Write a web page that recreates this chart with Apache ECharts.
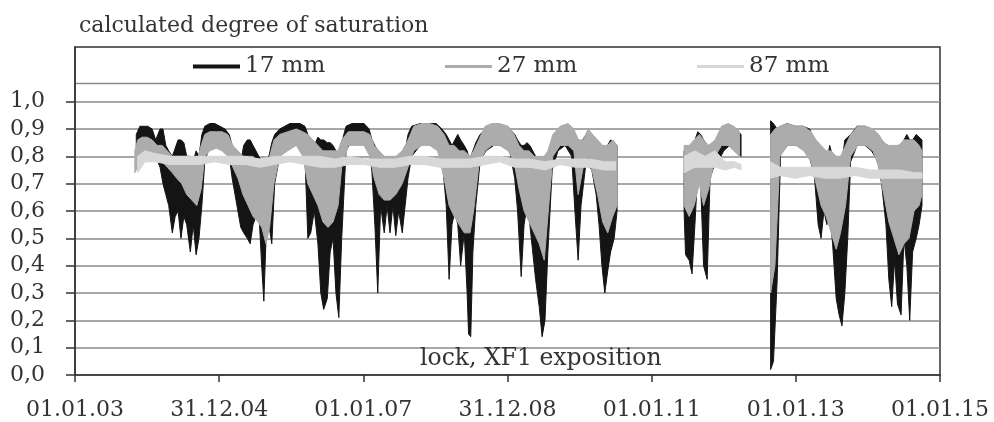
<!DOCTYPE html>
<html>
<head>
<meta charset="utf-8">
<script src="https://cdn.jsdelivr.net/npm/echarts@6/dist/echarts.min.js"></script>
<style>
  html, body { margin: 0; padding: 0; background: #fff; }
  #chart { width: 994px; height: 422px; }
</style>
</head>
<body>
<div id="chart"></div>
<script>
  // x in decimal years, each row: [time, high, low] of the daily swing; null = no data
  const xTickLabels = ['01.01.03', '31.12.04', '01.01.07', '31.12.08', '01.01.11', '01.01.13', '01.01.15']
  const yTicks = [0, 0.1, 0.2, 0.3, 0.4, 0.5, 0.6, 0.7, 0.8, 0.9, 1.0]
  const seriesNames = ['17 mm', '27 mm', '87 mm']
  const seriesColors = ['#141414', '#acacac', '#d8d8d8']

  const s17 = [
    [2003.85,.88,.80],[2003.90,.91,.82],[2003.96,.91,.84],[2004.01,.91,.86],[2004.07,.90,.84],[2004.12,.86,.80],
    [2004.18,.90,.76],[2004.22,.90,.70],[2004.26,.84,.66],[2004.30,.82,.62],[2004.35,.80,.52],[2004.39,.83,.58],
    [2004.43,.86,.60],[2004.47,.86,.50],[2004.51,.85,.58],[2004.55,.80,.55],[2004.60,.80,.45],[2004.64,.78,.55],
    [2004.68,.82,.44],[2004.72,.80,.50],[2004.76,.88,.62],[2004.80,.91,.78],[2004.87,.92,.84],[2004.94,.92,.86],
    [2005.01,.91,.86],[2005.08,.90,.84],[2005.14,.88,.80],[2005.18,.84,.72],[2005.22,.82,.66],[2005.26,.80,.60],
    [2005.30,.78,.54],[2005.34,.84,.52],[2005.39,.86,.50],[2005.43,.86,.48],[2005.47,.84,.55],[2005.51,.82,.58],
    [2005.55,.80,.60],[2005.59,.78,.40],[2005.62,.76,.27],[2005.65,.78,.50],[2005.69,.80,.55],[2005.73,.85,.48],
    [2005.77,.88,.70],[2005.84,.90,.80],[2005.91,.91,.82],[2005.98,.92,.84],[2006.05,.92,.86],[2006.12,.92,.85],
    [2006.19,.91,.80],[2006.23,.88,.50],[2006.27,.86,.52],[2006.32,.84,.60],[2006.37,.87,.48],[2006.41,.86,.30],
    [2006.45,.86,.24],[2006.50,.85,.28],[2006.54,.85,.45],[2006.58,.84,.50],[2006.62,.82,.30],[2006.66,.80,.21],
    [2006.70,.85,.50],[2006.76,.91,.82],[2006.84,.92,.86],[2006.93,.92,.86],[2007.01,.92,.86],[2007.08,.90,.84],
    [2007.12,.86,.74],[2007.16,.84,.55],[2007.20,.82,.30],[2007.24,.80,.62],[2007.29,.78,.52],[2007.33,.80,.62],
    [2007.37,.78,.52],[2007.41,.80,.62],[2007.45,.78,.51],[2007.49,.80,.60],[2007.54,.80,.52],[2007.58,.82,.62],
    [2007.62,.88,.72],[2007.67,.91,.80],[2007.79,.92,.84],[2007.90,.92,.85],[2008.01,.92,.84],[2008.09,.90,.80],
    [2008.15,.88,.62],[2008.19,.86,.35],[2008.23,.84,.55],[2008.27,.86,.60],[2008.31,.88,.55],[2008.35,.86,.40],
    [2008.40,.84,.52],[2008.44,.82,.30],[2008.46,.80,.15],[2008.49,.80,.14],[2008.52,.82,.45],[2008.56,.85,.62],
    [2008.62,.88,.78],[2008.70,.90,.82],[2008.81,.91,.84],[2008.92,.91,.84],[2009.03,.90,.82],[2009.10,.88,.72],
    [2009.14,.86,.60],[2009.19,.84,.36],[2009.23,.84,.55],[2009.27,.85,.62],[2009.31,.84,.55],[2009.35,.82,.45],
    [2009.39,.80,.35],[2009.44,.78,.25],[2009.48,.80,.14],[2009.52,.78,.20],[2009.56,.80,.45],[2009.62,.86,.75],
    [2009.70,.90,.82],[2009.80,.91,.84],[2009.89,.90,.80],[2009.94,.88,.58],[2009.98,.86,.42],[2010.02,.85,.62],
    [2010.09,.88,.78],[2010.17,.88,.75],[2010.23,.86,.66],[2010.27,.82,.55],[2010.31,.80,.40],[2010.35,.80,.30],
    [2010.39,.84,.38],[2010.43,.86,.45],[2010.48,.85,.50],[2010.52,.84,.60],
    null,
    [2011.45,.82,.60],[2011.47,.82,.44],[2011.52,.80,.42],[2011.56,.82,.37],[2011.60,.86,.55],[2011.64,.89,.75],
    [2011.68,.88,.70],[2011.72,.86,.40],[2011.77,.84,.35],[2011.81,.84,.72],[2011.86,.80,.76],[2011.92,.86,.78],
    [2012.00,.90,.82],[2012.08,.91,.84],[2012.17,.90,.82],[2012.24,.88,.80],
    null,
    [2012.65,.93,.02],[2012.69,.92,.05],[2012.74,.90,.34],[2012.79,.91,.82],[2012.88,.92,.84],[2012.99,.91,.84],
    [2013.10,.91,.84],[2013.19,.90,.80],[2013.26,.86,.72],[2013.31,.82,.55],[2013.35,.80,.50],[2013.39,.80,.60],
    [2013.43,.78,.55],[2013.47,.84,.60],[2013.51,.80,.48],[2013.56,.78,.28],[2013.60,.76,.22],[2013.64,.78,.18],
    [2013.68,.86,.30],[2013.72,.87,.50],[2013.76,.88,.78],[2013.85,.91,.84],[2013.96,.91,.84],[2014.05,.90,.82],
    [2014.14,.88,.78],[2014.19,.86,.70],[2014.25,.84,.55],[2014.29,.82,.35],[2014.33,.80,.25],[2014.37,.82,.42],
    [2014.41,.84,.26],[2014.46,.84,.22],[2014.50,.86,.50],[2014.54,.88,.40],[2014.58,.86,.20],[2014.62,.86,.45],
    [2014.67,.88,.50],[2014.71,.87,.55],[2014.75,.86,.62]
  ]

  const s27 = [
    [2003.83,.82,.74],[2003.87,.86,.76],[2003.93,.87,.78],[2004.00,.87,.80],[2004.07,.86,.78],[2004.14,.84,.80],
    [2004.21,.84,.78],[2004.28,.82,.76],[2004.35,.80,.74],[2004.41,.80,.72],[2004.48,.80,.70],[2004.55,.80,.66],
    [2004.62,.78,.64],[2004.69,.78,.62],[2004.75,.84,.68],[2004.80,.88,.80],[2004.87,.89,.82],[2004.96,.89,.83],
    [2005.04,.89,.82],[2005.12,.88,.80],[2005.19,.84,.76],[2005.26,.82,.72],[2005.33,.80,.66],[2005.40,.80,.62],
    [2005.47,.80,.58],[2005.54,.78,.56],[2005.59,.78,.54],[2005.65,.78,.48],[2005.70,.80,.54],[2005.76,.86,.70],
    [2005.84,.88,.80],[2005.95,.89,.82],[2006.07,.90,.84],[2006.16,.89,.80],[2006.23,.88,.70],[2006.30,.86,.66],
    [2006.37,.84,.62],[2006.44,.82,.56],[2006.51,.82,.54],[2006.58,.82,.56],[2006.65,.82,.62],[2006.70,.86,.76],
    [2006.79,.89,.84],[2006.90,.89,.84],[2007.01,.89,.84],[2007.09,.88,.80],[2007.15,.84,.72],[2007.22,.82,.66],
    [2007.29,.80,.64],[2007.37,.80,.64],[2007.45,.80,.66],[2007.54,.82,.70],[2007.62,.86,.76],[2007.70,.91,.82],
    [2007.81,.92,.84],[2007.92,.92,.84],[2008.03,.91,.82],[2008.12,.88,.72],[2008.19,.84,.62],[2008.26,.84,.58],
    [2008.33,.82,.55],[2008.40,.82,.52],[2008.48,.80,.52],[2008.53,.82,.60],[2008.60,.86,.76],[2008.69,.91,.82],
    [2008.78,.92,.84],[2008.89,.92,.84],[2009.01,.91,.82],[2009.09,.88,.78],[2009.16,.84,.68],[2009.23,.82,.60],
    [2009.30,.82,.56],[2009.37,.80,.52],[2009.44,.80,.48],[2009.51,.80,.42],[2009.56,.82,.58],[2009.63,.88,.80],
    [2009.73,.91,.84],[2009.84,.92,.84],[2009.92,.90,.82],[2009.98,.86,.66],[2010.05,.86,.76],[2010.12,.90,.80],
    [2010.18,.88,.74],[2010.25,.86,.66],[2010.32,.84,.56],[2010.39,.84,.52],[2010.46,.86,.58],[2010.52,.84,.62],
    null,
    [2011.45,.84,.62],[2011.52,.84,.58],[2011.59,.86,.62],[2011.66,.88,.70],[2011.72,.86,.62],[2011.79,.84,.68],
    [2011.88,.86,.80],[2011.97,.91,.84],[2012.06,.92,.84],[2012.14,.91,.82],[2012.22,.89,.80],
    null,
    [2012.65,.88,.30],[2012.71,.90,.40],[2012.78,.91,.80],[2012.89,.92,.84],[2013.00,.91,.84],[2013.11,.91,.82],
    [2013.21,.89,.78],[2013.28,.86,.70],[2013.35,.84,.62],[2013.42,.82,.58],[2013.49,.82,.52],[2013.56,.80,.46],
    [2013.62,.80,.52],[2013.69,.84,.62],[2013.76,.88,.80],[2013.86,.91,.84],[2013.97,.91,.84],[2014.07,.90,.82],
    [2014.15,.88,.76],[2014.22,.85,.66],[2014.29,.84,.56],[2014.36,.84,.50],[2014.43,.84,.44],[2014.50,.86,.48],
    [2014.57,.86,.50],[2014.64,.86,.60],[2014.71,.84,.62],[2014.75,.82,.66]
  ]

  const s87 = [
    [2003.87,.80,.74],[2003.97,.82,.78],[2004.11,.81,.78],[2004.32,.80,.77],[2004.53,.80,.77],[2004.73,.80,.77],
    [2004.94,.80,.78],[2005.15,.80,.77],[2005.36,.80,.77],[2005.57,.79,.76],[2005.77,.80,.77],[2005.98,.80,.78],
    [2006.19,.80,.77],[2006.40,.80,.76],[2006.61,.79,.76],[2006.81,.80,.77],[2007.02,.79,.77],[2007.23,.79,.76],
    [2007.44,.79,.76],[2007.65,.80,.77],[2007.85,.80,.77],[2008.06,.79,.76],[2008.27,.79,.76],[2008.48,.79,.76],
    [2008.69,.80,.77],[2008.89,.80,.78],[2009.10,.79,.76],[2009.31,.79,.76],[2009.52,.78,.75],[2009.73,.79,.77],
    [2009.94,.79,.76],[2010.14,.79,.76],[2010.35,.78,.75],[2010.50,.78,.75],
    null,
    [2011.45,.80,.74],[2011.60,.82,.76],[2011.74,.80,.76],[2011.88,.82,.76],[2012.02,.78,.75],[2012.15,.78,.76],
    [2012.24,.77,.75],
    null,
    [2012.65,.78,.72],[2012.78,.76,.73],[2012.99,.76,.72],[2013.19,.76,.73],[2013.40,.76,.72],[2013.61,.76,.72],
    [2013.82,.76,.73],[2014.03,.75,.72],[2014.23,.75,.72],[2014.44,.75,.72],[2014.65,.74,.72],[2014.75,.74,.72]
  ]

  // null rows become a NaN row so the filled swing breaks there
  function toRows(rows) {
    let last = 0
    return rows.map(r => {
      if (r === null) return [last + 0.05, '-', '-']
      last = r[0]
      return r
    })
  }

  // one filled outline (highs forward, lows back) per unbroken run of readings
  function swingRenderer(color) {
    return function (params, api) {
      const i = params.dataIndexInside
      const n = params.dataInsideLength
      const ok = j => j >= 0 && j < n && !isNaN(api.value(1, j)) && !isNaN(api.value(2, j))
      if (!ok(i) || ok(i - 1)) return
      const top = []
      const bottom = []
      for (let j = i; ok(j); j++) {
        const t = api.value(0, j)
        top.push(api.coord([t, api.value(1, j)]))
        bottom.unshift(api.coord([t, api.value(2, j)]))
      }
      return {
        type: 'polygon',
        shape: { points: top.concat(bottom) },
        style: { fill: color, stroke: color, lineWidth: 1 }
      }
    }
  }

  const font = 'DejaVu Serif'
  const series = [s17, s27, s87].map((rows, i) => ({
    name: seriesNames[i],
    type: 'custom',
    data: toRows(rows),
    dimensions: ['t', 'hi', 'lo'],
    encode: { x: 0, y: [1, 2] },
    itemStyle: { color: seriesColors[i] },
    renderItem: swingRenderer(seriesColors[i]),
    silent: true,
    z: 2 + i
  }))

  const legendLeft = [193, 445, 697]
  const legends = seriesNames.map((n, i) => ({
    data: [{ name: n, icon: 'rect', itemStyle: { color: seriesColors[i] } }],
    left: legendLeft[i],
    top: 55,
    padding: 0,
    itemWidth: 47,
    itemHeight: i === 0 ? 4 : 3,
    selectedMode: false,
    textStyle: { fontFamily: font, fontSize: 23, color: '#333' }
  }))

  const chart = echarts.init(document.getElementById('chart'))
  chart.setOption({
    animation: false,
    backgroundColor: '#fff',
    title: {
      text: 'calculated degree of saturation',
      left: 74,
      top: 10,
      textStyle: { fontFamily: font, fontSize: 22, fontWeight: 'normal', color: '#333' }
    },
    legend: legends,
    grid: {
      left: 75, right: 54, top: 47, bottom: 47,
      show: true, borderColor: '#333', borderWidth: 1.5, backgroundColor: '#fff'
    },
    xAxis: {
      type: 'value',
      min: 2003, max: 2015, interval: 2,
      axisLine: { lineStyle: { color: '#333', width: 1.5 } },
      axisTick: { show: true, length: 7, lineStyle: { color: '#333', width: 1.5 } },
      axisLabel: {
        margin: 24,
        fontFamily: font, fontSize: 22, color: '#333',
        formatter: v => xTickLabels[Math.round((v - 2003) / 2)]
      },
      splitLine: { show: false }
    },
    yAxis: {
      type: 'value',
      min: 0, max: 1.2, interval: 0.1,
      axisLine: { show: true, lineStyle: { color: '#333', width: 1.5 } },
      axisTick: { show: true, length: 9, customValues: yTicks, lineStyle: { color: '#333', width: 1.5 } },
      axisLabel: {
        margin: 30,
        customValues: yTicks,
        fontFamily: font, fontSize: 22, color: '#333',
        formatter: v => v.toFixed(1).replace('.', ',')
      },
      splitLine: { lineStyle: { color: '#8a8a8a', width: 1.5 } }
    },
    graphic: [
      { type: 'rect', z: 1, shape: { x: 76, y: 48, width: 863, height: 35 }, style: { fill: '#fff' } },
      { type: 'line', z: 1, shape: { x1: 76, y1: 83.5, x2: 939, y2: 83.5 }, style: { stroke: '#8a8a8a', lineWidth: 1.5 } },
      {
        type: 'text', z: 10, x: 420, y: 359,
        style: { text: 'lock, XF1 exposition', font: '23.5px "DejaVu Serif"', fill: '#333', verticalAlign: 'middle' }
      }
    ],
    series: series
  })
</script>
</body>
</html>
